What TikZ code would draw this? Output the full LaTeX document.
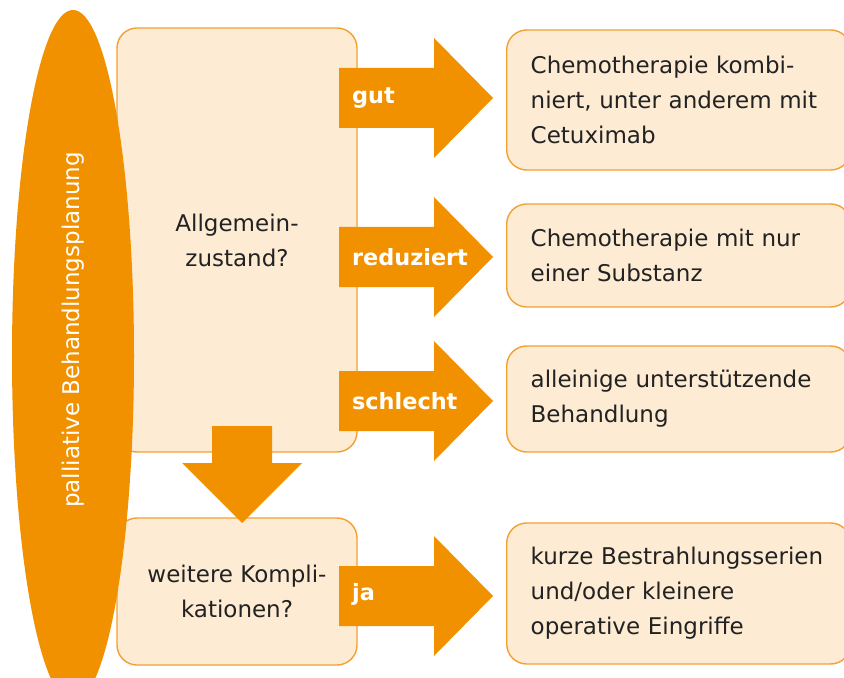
\documentclass[tikz,border=0pt]{standalone}
\usepackage{fontspec}
\setmainfont{DejaVu Sans}
\definecolor{orng}{HTML}{F29100}
\definecolor{boxfill}{HTML}{FDEBD4}
\definecolor{boxline}{HTML}{F2A033}
\definecolor{txt}{HTML}{222222}
\tikzset{
  box/.style={draw=boxline, fill=boxfill, rounded corners=10pt, line width=0.7pt,
    text=txt, font=\fontsize{11.5}{17.5}\selectfont},
  resbox/.style={box, anchor=west, text width=148pt, inner xsep=12pt, align=left},
  qbox/.style={box, minimum width=120pt, align=center},
  lbl/.style={anchor=west, text=white, font=\fontsize{11.2}{14}\selectfont\bfseries},
}
\begin{document}
\hyphenpenalty=10000
\begin{tikzpicture}[x=0.5pt, y=-0.5pt]
    \useasboundingbox (0,0) rectangle (844,678);
    \clip (0,0) rectangle (844,678);

    \node[qbox, minimum height=212pt](zustand) at (237,240) {Allgemein-\\zustand?};
    \node[qbox, minimum height=73.5pt](kompl) at (237,591.5) {weitere Kompli-\\kationen?};

    \node[resbox, minimum height=70pt](kombi) at (506,100) {Chemotherapie kombi-\\niert, unter anderem mit\\Cetuximab};
    \node[resbox, minimum height=51.5pt](mono) at (506,255.5) {Chemotherapie mit nur\\einer Substanz};
    \node[resbox, minimum height=53pt](support) at (506,399) {alleinige unterstützende\\Behandlung};
    \node[resbox, minimum height=70.5pt](bestr) at (506,593.5) {kurze Bestrahlungsserien\\und/oder kleinere\\operative Eingriffe};

    % block arrows
    \foreach \y in {98,257,401,596}
        \fill[orng] (339,{\y-30}) -- (434,{\y-30}) -- (434,{\y-60}) -- (493,\y)
            -- (434,{\y+60}) -- (434,{\y+30}) -- (339,{\y+30}) -- cycle;
    \fill[orng] (212,426) -- (272,426) -- (272,463) -- (302,463) -- (242,523)
        -- (182,463) -- (212,463) -- cycle;

    \node[lbl](gut) at (345,98) {gut};
    \node[lbl](red) at (345,257) {reduziert};
    \node[lbl](schl) at (345,401) {schlecht};
    \node[lbl](ja) at (345,594) {ja};

    \fill[orng] (73,356) ellipse [x radius=61, y radius=346];
    \node[rotate=90, text=white, font=\fontsize{11.5}{14}\selectfont](plan) at (73,330) {palliative Behandlungsplanung};
\end{tikzpicture}
\end{document}
